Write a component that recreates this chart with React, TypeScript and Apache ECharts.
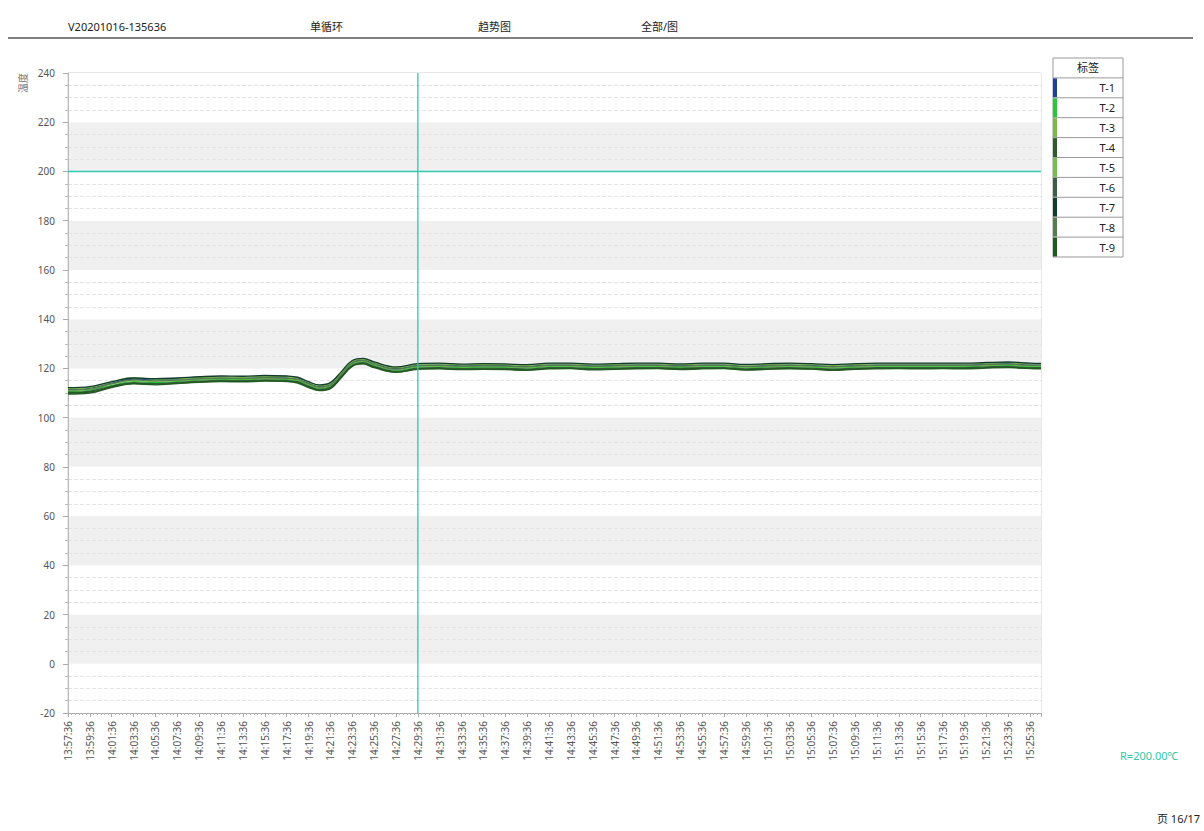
import React, { useEffect, useRef } from "react";
import * as echarts from "echarts";

const startTime = "13:57:36";
const sampleMinutes = [0, 2, 4, 6, 8, 10, 12, 14, 16, 18, 20, 21, 22, 23, 24, 25, 26, 27, 28, 30, 32, 34, 36, 38, 40, 42, 44, 46, 48, 50, 52, 54, 56, 58, 60, 62, 64, 66, 68, 70, 72, 74, 76, 78, 80, 82, 84, 86, 88, 89];

const seriesNames = ["T-1", "T-2", "T-3", "T-4", "T-5", "T-6", "T-7", "T-8", "T-9"];
const seriesColors = ["#1f3f9f", "#27c936", "#7db848", "#2e5a2e", "#74bf4c", "#3d5e45", "#123c2c", "#557e50", "#1d5a1d"];

const t1 = [111.4,111.9,114,115.6,115.4,115.6,115.9,116.1,116,116.3,116.1,115.6,113.9,112.6,113.4,117.9,122.4,123.3,121.9,119.9,121.2,121.4,121,121.2,121.1,120.8,121.4,121.4,121,121.2,121.4,121.4,121.1,121.4,121.4,120.9,121.2,121.4,121.2,120.8,121.2,121.4,121.4,121.4,121.4,121.4,121.7,121.9,121.4,121.4];
const t2 = [110.7,111.2,113.1,114.6,114.3,114.7,115.2,115.5,115.4,115.7,115.5,115,113.2,111.9,112.7,117.2,121.7,122.7,121.2,119.2,120.5,120.7,120.3,120.5,120.4,120.1,120.7,120.7,120.3,120.5,120.7,120.7,120.4,120.7,120.7,120.2,120.5,120.7,120.5,120.1,120.5,120.7,120.7,120.7,120.7,120.7,121,121.2,120.7,120.7];
const t3 = [111.8,112.3,114.5,116.2,115.6,115.8,116.2,116.5,116.4,116.8,116.6,116,114.3,113,113.8,118.3,122.8,123.8,122.3,120.3,121.6,121.8,121.4,121.6,121.5,121.2,121.8,121.8,121.4,121.6,121.8,121.8,121.5,121.8,121.8,121.3,121.6,121.8,121.6,121.2,121.6,121.8,121.8,121.8,121.8,121.8,122.1,122.3,121.8,121.8];
const t4 = [109.6,110,112.2,113.7,113.3,113.8,114.3,114.6,114.5,114.8,114.6,114,112.2,111,111.8,116.2,120.8,121.8,120.3,118.4,119.6,119.8,119.5,119.6,119.5,119.2,119.8,119.9,119.4,119.6,119.8,119.9,119.5,119.8,119.9,119.3,119.6,119.8,119.7,119.2,119.6,119.8,119.9,119.8,119.9,119.8,120.1,120.3,119.9,119.8];
const t5 = [111,111.5,113.6,115,114.7,115,115.5,115.8,115.7,116,115.8,115.3,113.5,112.2,113,117.5,122,123,121.5,119.5,120.8,121,120.6,120.8,120.7,120.4,121,121,120.6,120.8,121,121,120.7,121,121,120.5,120.8,121,120.8,120.4,120.8,121,121,121,121,121,121.3,121.5,121,121];
const t6 = [110.3,110.8,112.8,114.2,113.8,114.3,114.8,115.1,115,115.3,115.1,114.6,112.8,111.5,112.3,116.8,121.3,122.3,120.8,118.8,120.1,120.3,119.9,120.1,120,119.7,120.3,120.3,119.9,120.1,120.3,120.3,120,120.3,120.3,119.8,120.1,120.3,120.1,119.7,120.1,120.3,120.3,120.3,120.3,120.3,120.6,120.8,120.3,120.3];
const t7 = [112.2,112.6,114.6,116.1,115.8,116.1,116.6,116.9,116.8,117.1,116.9,116.4,114.6,113.3,114.2,118.7,123.2,124.1,122.6,120.6,121.9,122.1,121.7,121.9,121.8,121.5,122.1,122.1,121.7,121.9,122.1,122.1,121.8,122.1,122.1,121.6,121.9,122.1,121.9,121.5,121.9,122.1,122.1,122.1,122.1,122.1,122.4,122.6,122.1,122];
const t8 = [111.3,111.7,113.8,115.3,114.9,115.2,115.7,116,115.9,116.2,116,115.5,113.7,112.4,113.2,117.7,122.2,123.2,121.7,119.7,121,121.2,120.8,121,120.9,120.6,121.2,121.2,120.8,121,121.2,121.2,120.9,121.2,121.2,120.7,121,121.2,121,120.6,121,121.2,121.2,121.2,121.2,121.2,121.5,121.7,121.2,121.2];
const t9 = [110,110.4,112.5,113.9,113.6,114,114.5,114.8,114.7,115,114.8,114.3,112.5,111.2,112,116.5,121,122,120.5,118.5,119.8,120,119.6,119.8,119.7,119.4,120,120,119.6,119.8,120,120,119.7,120,120,119.5,119.8,120,119.8,119.4,119.8,120,120,120,120,120,120.3,120.5,120,120];
const seriesValues = [t1, t2, t3, t4, t5, t6, t7, t8, t9];

const headerTexts = ["V20201016-135636", "单循环", "趋势图", "全部/图"];
const xMin = 0;
const xMax = 89;
const yMin = -20;
const yMax = 240;
const cursorMinute = 32;
const cursorValue = 200;
const refText = "R=200.00℃";
const pageText = "页 16/17";

const FONT = '"Noto Sans", "Noto Sans CJK SC", sans-serif';
const CURSOR = "#30c8b0";

function fmtTime(min: number): string {
  const [h, m, s] = startTime.split(":").map(Number);
  const total = h * 3600 + m * 60 + s + Math.round(min * 60);
  const hh = Math.floor(total / 3600);
  const mm = Math.floor((total % 3600) / 60);
  const ss = total % 60;
  const p = (n: number) => String(n).padStart(2, "0");
  return `${p(hh)}:${p(mm)}:${p(ss)}`;
}

export default function App() {
  const ref = useRef<HTMLDivElement>(null);
  useEffect(() => {
    if (!ref.current) return;
    const chart = echarts.init(ref.current, null, { renderer: "svg" });

    const headerX = [68, 310, 478, 641];
    const graphics: any[] = [];
    headerTexts.forEach((t, i) => {
      graphics.push({
        type: "text", left: headerX[i], top: 21,
        style: { text: t, fill: "#222", font: `11px ${FONT}` },
      });
    });
    graphics.push({ type: "line", shape: { x1: 8, y1: 38, x2: 1193, y2: 38 }, style: { stroke: "#555", lineWidth: 1.5 } });
    const lx = 1053, ly = 58, lw = 70, rowH = 19.9;
    graphics.push({ type: "rect", shape: { x: lx, y: ly, width: lw, height: rowH * 10 }, style: { fill: "#fff", stroke: "#999", lineWidth: 1 } });
    graphics.push({ type: "text", x: lx + lw / 2, y: ly + rowH / 2, style: { text: "标签", fill: "#222", font: `11px ${FONT}`, textAlign: "center", textVerticalAlign: "middle" } });
    seriesNames.forEach((n, i) => {
      const y = ly + rowH * (i + 1);
      graphics.push({ type: "line", shape: { x1: lx, y1: y, x2: lx + lw, y2: y }, style: { stroke: "#999", lineWidth: 1 } });
      graphics.push({ type: "rect", shape: { x: lx, y: y + 0.5, width: 4, height: rowH - 1 }, style: { fill: seriesColors[i] } });
      graphics.push({ type: "text", x: lx + lw - 8, y: y + rowH / 2, style: { text: n, fill: "#222", font: `11px ${FONT}`, textAlign: "right", textVerticalAlign: "middle" } });
    });
    graphics.push({ type: "text", x: 1120, y: 750, style: { text: refText, fill: "#2fc9a6", font: `11px ${FONT}` } });
    graphics.push({ type: "text", x: 1157, y: 813, style: { text: pageText, fill: "#222", font: `11px ${FONT}` } });

    const series: any[] = seriesNames.map((n, i) => ({
      name: n,
      type: "line",
      symbol: "none",
      smooth: 0.4,
      data: sampleMinutes.map((m, j) => [m, seriesValues[i][j]]),
      lineStyle: { color: seriesColors[i], width: 1.3 },
      itemStyle: { color: seriesColors[i] },
      z: 3,
    }));
    series.push({
      name: "cursorH",
      type: "line",
      symbol: "none",
      silent: true,
      data: [[xMin, cursorValue], [xMax, cursorValue]],
      lineStyle: { color: CURSOR, width: 1.6 },
      itemStyle: { color: CURSOR },
      z: 10,
    });
    series.push({
      name: "cursorV",
      type: "line",
      symbol: "none",
      silent: true,
      data: [[cursorMinute, yMin], [cursorMinute, yMax]],
      lineStyle: { color: CURSOR, width: 1.3 },
      itemStyle: { color: CURSOR },
      z: 10,
    });

    chart.setOption({
      animation: false,
      backgroundColor: "#fff",
      textStyle: { fontFamily: FONT },
      grid: { left: 68, right: 163, top: 73, bottom: 118, show: true, borderColor: "#d0d0d0", borderWidth: 1, backgroundColor: "#fff" },
      xAxis: {
        type: "value",
        min: xMin,
        max: xMax,
        interval: 2,
        axisLine: { show: true, onZero: false, lineStyle: { color: "#aaa" } },
        axisTick: { show: true, length: 4, lineStyle: { color: "#aaa" } },
        minorTick: { show: true, splitNumber: 6, length: 2, lineStyle: { color: "#bbb" } },
        splitLine: { show: false },
        axisLabel: {
          rotate: 90,
          color: "#555",
          fontSize: 10,
          margin: 8,
          showMaxLabel: false,
          formatter: (v: number) => fmtTime(v),
        },
      },
      yAxis: {
        type: "value",
        min: yMin,
        max: yMax,
        interval: 20,
        name: "温度",
        nameLocation: "end",
        nameRotate: 90,
        nameGap: 0,
        nameTextStyle: { color: "#777", fontSize: 10, align: "right", verticalAlign: "bottom", padding: [0, 0, 40, 0] },
        axisLine: { show: true, lineStyle: { color: "#bbb" } },
        axisTick: { show: true, length: 5, lineStyle: { color: "#aaa" } },
        minorTick: { show: true, splitNumber: 4, length: 3, lineStyle: { color: "#bbb" } },
        splitLine: { show: false },
        minorSplitLine: { show: true, lineStyle: { color: "#e4e4e4", type: "dashed", width: 1 } },
        splitArea: { show: true, areaStyle: { color: ["#ffffff", "#f0f0f0"] } },
        axisLabel: { color: "#555", fontSize: 10, margin: 13 },
      },
      graphic: graphics,
      series,
    });
    return () => chart.dispose();
  }, []);
  return <div ref={ref} style={{ position: "fixed", left: 0, top: 0, width: 1204, height: 831 }} />;
}
